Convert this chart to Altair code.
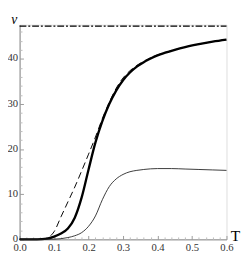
import altair as alt
import pandas as pd

# Thick solid curve
T_thick = [0.0, 0.05, 0.08, 0.10, 0.12, 0.14, 0.16, 0.18, 0.20, 0.22, 0.24, 0.26, 0.28, 0.30,
           0.32, 0.34, 0.36, 0.38, 0.40, 0.42, 0.45, 0.48, 0.52, 0.56, 0.60]
v_thick = [0.0, 0.0, 0.15, 0.6, 1.3, 2.4, 4.8, 9.3, 15.5, 21.5, 26.2, 30.0, 33.0, 35.3,
           37.0, 38.3, 39.3, 40.1, 40.8, 41.35, 42.05, 42.65, 43.3, 43.85, 44.3]

# Dashed curve
T_dash = [0.0, 0.06, 0.08, 0.09, 0.10, 0.12, 0.14, 0.16, 0.18, 0.20, 0.22, 0.24, 0.26, 0.28,
          0.30, 0.32, 0.34, 0.36, 0.38, 0.40, 0.42, 0.45, 0.48, 0.52, 0.56, 0.60]
v_dash = [0.0, 0.0, 0.3, 0.8, 1.7, 5.0, 8.3, 11.6, 15.2, 18.9, 22.7, 26.8, 30.4, 33.5,
          35.8, 37.4, 38.6, 39.5, 40.3, 40.9, 41.4, 42.05, 42.65, 43.3, 43.85, 44.3]

# Thin solid curve
T_thin = [0.0, 0.10, 0.12, 0.14, 0.16, 0.18, 0.20, 0.22, 0.24, 0.26, 0.28, 0.30, 0.32, 0.34,
          0.36, 0.40, 0.44, 0.48, 0.52, 0.56, 0.60]
v_thin = [0.0, 0.05, 0.15, 0.4, 0.8, 1.5, 2.9, 5.2, 8.8, 11.7, 13.4, 14.4, 15.0, 15.3,
          15.5, 15.7, 15.7, 15.6, 15.5, 15.4, 15.3]

# Horizontal dash-dot limit
T_limit = [0.0, 0.6]
v_limit = 47.3

x_ticks = [0.0, 0.1, 0.2, 0.3, 0.4, 0.5, 0.6]
x_minor = [0.02, 0.04, 0.06, 0.08, 0.12, 0.14, 0.16, 0.18, 0.22, 0.24, 0.26, 0.28,
           0.32, 0.34, 0.36, 0.38, 0.42, 0.44, 0.46, 0.48, 0.52, 0.54, 0.56, 0.58]
y_ticks = [0, 10, 20, 30, 40]
y_minor = [2, 4, 6, 8, 12, 14, 16, 18, 22, 24, 26, 28, 32, 34, 36, 38, 42, 44, 46]

W, H = 214, 222
FONT = "Liberation Serif"
xs = alt.Scale(domain=[0, 0.6], nice=False, zero=False)
ys = alt.Scale(domain=[0, 47.6], nice=False)

df_thick = pd.DataFrame({"T": T_thick, "v": v_thick})
df_dash = pd.DataFrame({"T": T_dash, "v": v_dash})
df_thin = pd.DataFrame({"T": T_thin, "v": v_thin})
df_lim = pd.DataFrame({"T": [T_limit[0]], "T2": [T_limit[1]], "v": [v_limit]})

main_x = alt.Axis(values=x_ticks, format=".1f", tickSize=0, labelPadding=3, grid=False,
                  domainColor="#888888", labelFont=FONT, labelFontSize=11, labelColor="#333333",
                  title="T", titleFont=FONT, titleFontSize=16, titleFontWeight="normal",
                  titleColor="#000000", titleAlign="left", titleBaseline="alphabetic",
                  titleX=W + 4, titleY=1, labelFlush=False)
main_y = alt.Axis(values=y_ticks, tickSize=0, labelPadding=2, labelOffset=-1, grid=False,
                  domainColor="#888888", labelFont=FONT, labelFontSize=11, labelColor="#333333",
                  title="ν", titleFont=FONT, titleFontSize=14, titleFontWeight="normal",
                  titleFontStyle="italic", titleColor="#000000", titleAngle=0,
                  titleAlign="center", titleBaseline="top", titleX=-6, titleY=-12)

maj_x = alt.Axis(orient="bottom", values=x_ticks, labels=False, domain=False, grid=False,
                 tickSize=4, offset=-4, tickColor="#999999", title=None)
maj_y = alt.Axis(orient="left", values=y_ticks, labels=False, domain=False, grid=False,
                 tickSize=4, offset=-4, tickColor="#999999", title=None)
min_x = alt.Axis(orient="bottom", values=x_minor, labels=False, domain=False, grid=False,
                 tickSize=2.5, offset=-2.5, tickColor="#bbbbbb", title=None)
min_y = alt.Axis(orient="left", values=y_minor, labels=False, domain=False, grid=False,
                 tickSize=2.5, offset=-2.5, tickColor="#bbbbbb", title=None)

thick = alt.Chart(df_thick).mark_line(color="#000000", strokeWidth=2.4, interpolate="monotone").encode(
    x=alt.X("T:Q", scale=xs, axis=main_x),
    y=alt.Y("v:Q", scale=ys, axis=main_y),
)
dash = alt.Chart(df_dash).mark_line(color="#000000", strokeWidth=1, strokeDash=[7, 4],
                                    interpolate="monotone").encode(
    x=alt.X("T:Q", scale=xs, axis=maj_x),
    y=alt.Y("v:Q", scale=ys, axis=maj_y),
)
thin = alt.Chart(df_thin).mark_line(color="#222222", strokeWidth=0.9, interpolate="monotone").encode(
    x=alt.X("T:Q", scale=xs, axis=min_x),
    y=alt.Y("v:Q", scale=ys, axis=min_y),
)
lim = alt.Chart(df_lim).mark_rule(color="#000000", strokeWidth=1.4, strokeDash=[7, 2, 2, 2]).encode(
    x=alt.X("T:Q", scale=xs, axis=None),
    x2="T2:Q",
    y=alt.Y("v:Q", scale=ys, axis=None),
)

chart = alt.layer(thick, dash, thin, lim).resolve_axis(x="independent", y="independent").properties(
    width=W, height=H, autosize=alt.AutoSizeParams(type="none"),
    padding={"left": 12, "top": 13, "right": 15, "bottom": 16},
).configure_view(stroke=None).configure(background="white")

chart.save("out.html", embed_options={"renderer": "svg", "actions": False})
